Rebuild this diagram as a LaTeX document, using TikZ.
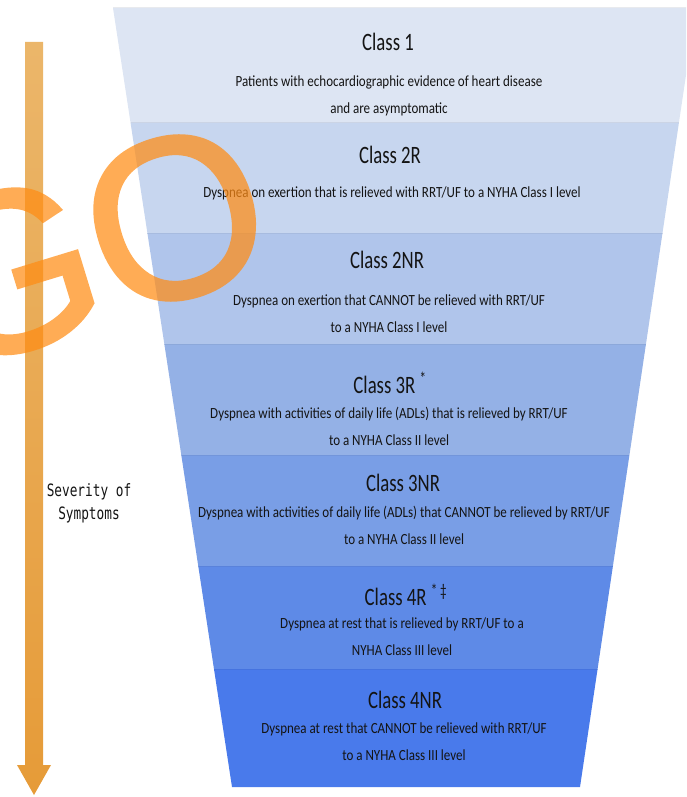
\documentclass[tikz,border=0pt]{standalone}
\usepackage{fontspec}
\newfontfamily\titlefont[FakeStretch=0.75]{Carlito}
\newfontfamily\descfont[FakeStretch=0.84]{Carlito}
\newfontfamily\axisfont[FakeStretch=0.75]{DejaVu Sans Mono}
\newfontfamily\markfont[FakeBold=1.2]{Liberation Sans}

\definecolor{layA}{HTML}{DDE5F3}
\definecolor{layB}{HTML}{C7D6EF}
\definecolor{layC}{HTML}{B0C5EB}
\definecolor{layD}{HTML}{94B1E6}
\definecolor{layE}{HTML}{799EE6}
\definecolor{layF}{HTML}{5E8AE7}
\definecolor{layG}{HTML}{497AEB}
\definecolor{inktext}{HTML}{141414}
\definecolor{arrowtop}{HTML}{EBB66A}
\definecolor{arrowbot}{HTML}{E69B38}
\definecolor{markorange}{HTML}{FF8C14}

\tikzset{
  classtitle/.style={inner sep=0pt, text=inktext, font=\titlefont\fontsize{25}{30}\selectfont},
  classdesc/.style={inner sep=0pt, align=center, text=inktext, font=\descfont\fontsize{15.5}{27}\selectfont},
  axislabel/.style={inner sep=0pt, align=center, text=inktext, font=\axisfont\fontsize{17}{23}\selectfont},
  bigmark/.style={inner sep=0pt, rotate=17, text=markorange,
    font=\markfont\fontsize{230}{230}\selectfont},
}

\begin{document}
\begin{tikzpicture}[x=1pt, y=-1pt]
\useasboundingbox (0,0) rectangle (686,797);
\clip (0,0) rectangle (686,797);

% corner points of the funnel bands
\foreach \i/\y in {0/8,1/123,2/233,3/344,4/455,5/566,6/669,7/787} {
  \coordinate (L\i) at ({113+0.15276*(\y-8)},\y);
  \coordinate (R\i) at ({696-0.1489*(\y-8)},\y);
}

% funnel bands, lightest at the top
\foreach \a/\b/\c in {0/1/layA,1/2/layB,2/3/layC,3/4/layD,4/5/layE,5/6/layF,6/7/layG} {
  \fill[\c] (L\a) -- (R\a) -- (R\b) -- (L\b) -- cycle;
  \draw[\c!80!black, opacity=0.25, line width=1pt] (L\a) -- (R\a);
}

% class titles and descriptions
\node[classtitle] (t1) at (388,42) {Class 1};
\node[classdesc]  (d1) at (389,96) {Patients with echocardiographic evidence of heart disease\\and are asymptomatic};

\node[classtitle] (t2) at (390,155) {Class 2R};
\node[classdesc]  (d2) at (392,193) {Dyspnea on exertion that is relieved with RRT/UF to a NYHA Class I level};

\node[classtitle] (t3) at (387,260) {Class 2NR};
\node[classdesc]  (d3) at (389,313.5) {Dyspnea on exertion that CANNOT be relieved with RRT/UF\\to a NYHA Class I level};

\node[classtitle] (t4) at (390,383) {Class 3R\,\textsuperscript{*}};
\node[classdesc]  (d4) at (389,426.5) {Dyspnea with activities of daily life (ADLs) that is relieved by RRT/UF\\to a NYHA Class II level};

\node[classtitle] (t5) at (403,483) {Class 3NR};
\node[classdesc]  (d5) at (404,525.5) {Dyspnea with activities of daily life (ADLs) that CANNOT be relieved by RRT/UF\\to a NYHA Class II level};

\node[classtitle] (t6) at (406,595) {Class 4R\,\textsuperscript{*\,‡}};
\node[classdesc]  (d6) at (402,636.5) {Dyspnea at rest that is relieved by RRT/UF to a\\NYHA Class III level};

\node[classtitle] (t7) at (405,700) {Class 4NR};
\node[classdesc]  (d7) at (404,742) {Dyspnea at rest that CANNOT be relieved with RRT/UF\\to a NYHA Class III level};

% severity arrow
\shade[top color=arrowtop, bottom color=arrowbot]
  (25,42) -- (43,42) -- (43,765) -- (51,765) -- (34,795) -- (17,765) -- (25,765) -- cycle;
\node[axislabel] (sev) at (89,503.5) {Severity of\\Symptoms};

% overlaid mark letters, composited as one translucent layer
\begin{scope}[transparency group, opacity=0.72]
  \node[bigmark] (markG) at (8,272) {G};
  \node[bigmark] (markO) at (175,218) {O};
\end{scope}
\end{tikzpicture}
\end{document}
